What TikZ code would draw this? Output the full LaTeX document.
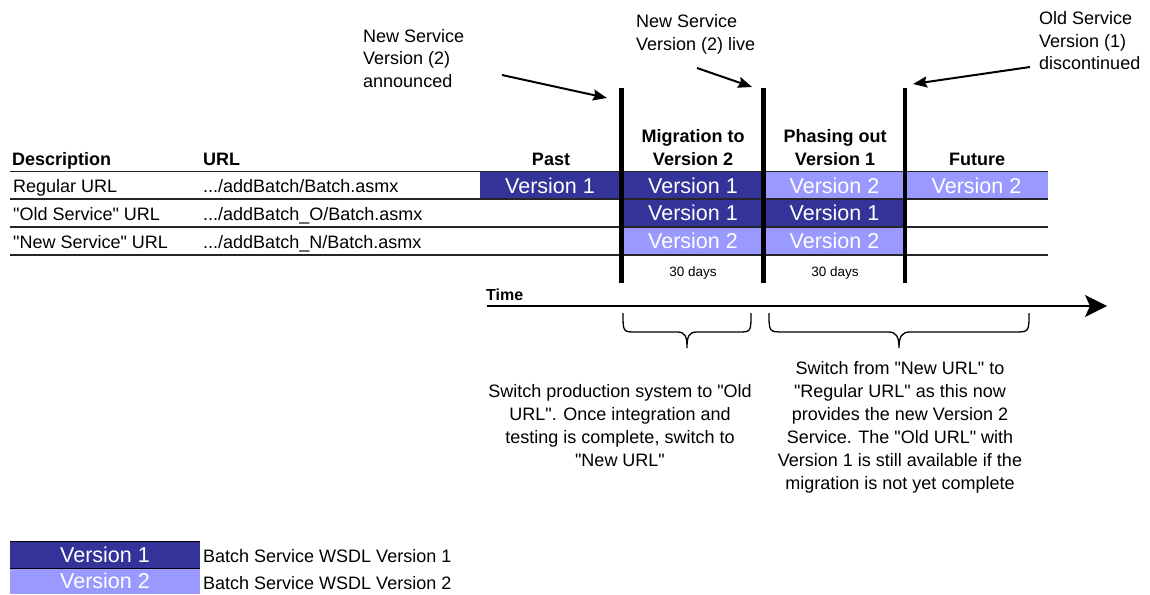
\documentclass[tikz,border=0pt]{standalone}
\usepackage{fontspec}
\setmainfont{Liberation Sans}[Ligatures=TeXOff]
\usetikzlibrary{arrows.meta}
\definecolor{vone}{HTML}{333399}
\definecolor{vtwo}{HTML}{9999FF}
\newcommand\mlines[2]{\begin{tabular}[t]{@{}#1@{}}#2\end{tabular}}
\begin{document}
\begin{tikzpicture}[x=1pt,y=-1pt,
  txt/.style={inner sep=0pt, font=\fontsize{18}{23}\selectfont},
  lbl/.style={txt, anchor=base west},
  note/.style={inner sep=0pt, font=\fontsize{18}{22.5}\selectfont, anchor=base west},
  hd/.style={inner sep=0pt, font=\bfseries\fontsize{18}{23}\selectfont, anchor=base},
  cell/.style={inner sep=0pt, text=white, font=\fontsize{21.5}{24}\selectfont, text height=15.4pt, text depth=0pt},
  cone/.style={cell, fill=vone},
  ctwo/.style={cell, fill=vtwo},
  rule/.style={line width=1.2pt, draw=black!85},
  bar/.style={line width=4.5pt},
  pointer/.style={line width=2pt, -{Stealth[length=14pt,width=11pt,inset=2pt]}},
  small/.style={inner sep=0pt, font=\fontsize{13.5}{16}\selectfont, anchor=base},
  brace/.style={line width=1.3pt},
]
\useasboundingbox (0,0) rectangle (1150,594);

% cells
\node[cone, minimum width=140, minimum height=27] (p1) at (550,185.5) {Version 1};
\node[cone, minimum width=142, minimum height=27] (m1) at (693,185.5) {Version 1};
\node[cone, minimum width=142, minimum height=28] (m2) at (693,213) {Version 1};
\node[ctwo, minimum width=142, minimum height=28] (m3) at (693,241) {Version 2};
\node[ctwo, minimum width=141, minimum height=27] (h1) at (834.5,185.5) {Version 2};
\node[cone, minimum width=141, minimum height=28] (h2) at (834.5,213) {Version 1};
\node[ctwo, minimum width=141, minimum height=28] (h3) at (834.5,241) {Version 2};
\node[ctwo, minimum width=143, minimum height=27] (f1) at (976.5,185.5) {Version 2};

% table rules
\draw[rule] (10,171.5) -- (1048,171.5);
\draw[rule] (10,199) -- (1048,199);
\draw[rule] (10,227) -- (1048,227);
\draw[rule] (10,255) -- (1048,255);

% header
\node[hd, anchor=base west] (hdesc) at (12,165) {Description};
\node[hd, anchor=base west] (hurl) at (203,165) {URL};
\node[hd] (hpast) at (551,165) {Past};
\node[hd] (hmig) at (693,142) {\mlines{c}{Migration to\\Version 2}};
\node[hd] (hpha) at (835,142) {\mlines{c}{Phasing out\\Version 1}};
\node[hd] (hfut) at (977,165) {Future};

% rows
\node[lbl] (d1) at (13,192) {Regular URL};
\node[lbl] (d2) at (13,220) {"Old Service" URL};
\node[lbl] (d3) at (13,248) {"New Service" URL};
\node[lbl] (u1) at (203,192) {.../addBatch/Batch.asmx};
\node[lbl] (u2) at (203,220) {.../addBatch\_O/Batch.asmx};
\node[lbl] (u3) at (203,248) {.../addBatch\_N/Batch.asmx};

\node[small] (t1) at (693,276) {30 days};
\node[small] (t2) at (835,276) {30 days};

% milestone bars
\draw[bar] (621.5,88) -- (621.5,283);
\draw[bar] (763.5,88) -- (763.5,283);
\draw[bar] (905,88) -- (905,283);

% annotations
\node[note] (n1) at (363,42) {\mlines{l}{New Service\\Version (2)\\announced}};
\node[note] (n2) at (636,28) {\mlines{l}{New Service\\Version (2) live}};
\node[note] (n3) at (1039,25) {\mlines{l}{Old Service\\Version (1)\\discontinued}};
\coordinate (a1s) at (502,75); \coordinate (a1e) at (607,98);
\coordinate (a2s) at (697,68); \coordinate (a2e) at (752,87);
\coordinate (a3s) at (1030,67); \coordinate (a3e) at (913,84);
\draw[pointer] (a1s) -- (a1e);
\draw[pointer] (a2s) -- (a2e);
\draw[pointer] (a3s) -- (a3e);

% time axis
\node[inner sep=0pt, font=\bfseries\fontsize{16}{20}\selectfont, anchor=base west] (time) at (486,300) {Time};
\coordinate (ts) at (487,306);
\coordinate (te) at (1107,306);
\draw[line width=2pt, -{Stealth[length=22pt,width=22pt,inset=5pt]}] (ts) -- (te);

% braces
\draw[brace] (623,313) .. controls (623,332) and (623,332) .. (636,332) -- (677,332)
  .. controls (685,332) and (687,336) .. (687,348)
  .. controls (687,336) and (689,332) .. (697,332) -- (738,332)
  .. controls (751,332) and (751,332) .. (751,313);
\draw[brace] (769,313) .. controls (769,332) and (769,332) .. (784,332) -- (888,332)
  .. controls (896,332) and (899,336) .. (899,348)
  .. controls (899,336) and (902,332) .. (910,332) -- (1014,332)
  .. controls (1029,332) and (1029,332) .. (1029,313);

% explanations
\node[txt, anchor=base] (e1) at (620,397) {\mlines{c}{Switch production system to "Old\\URL". Once integration and\\testing is complete, switch to\\"New URL"}};
\node[txt, anchor=base] (e2) at (900,374) {\mlines{c}{Switch from "New URL" to\\"Regular URL" as this now\\provides the new Version 2\\Service. The "Old URL" with\\Version 1 is still available if the\\migration is not yet complete}};

% legend
\node[cone, minimum width=190, minimum height=27] (l1) at (105,554.5) {Version 1};
\node[ctwo, minimum width=190, minimum height=26] (l2) at (105,581) {Version 2};
\draw[line width=1pt] (10,541) -- (200,541);
\draw[line width=1pt] (10,568) -- (200,568);
\node[lbl] (ld1) at (203,562) {Batch Service WSDL Version 1};
\node[lbl] (ld2) at (203,589) {Batch Service WSDL Version 2};
\end{tikzpicture}
\end{document}
